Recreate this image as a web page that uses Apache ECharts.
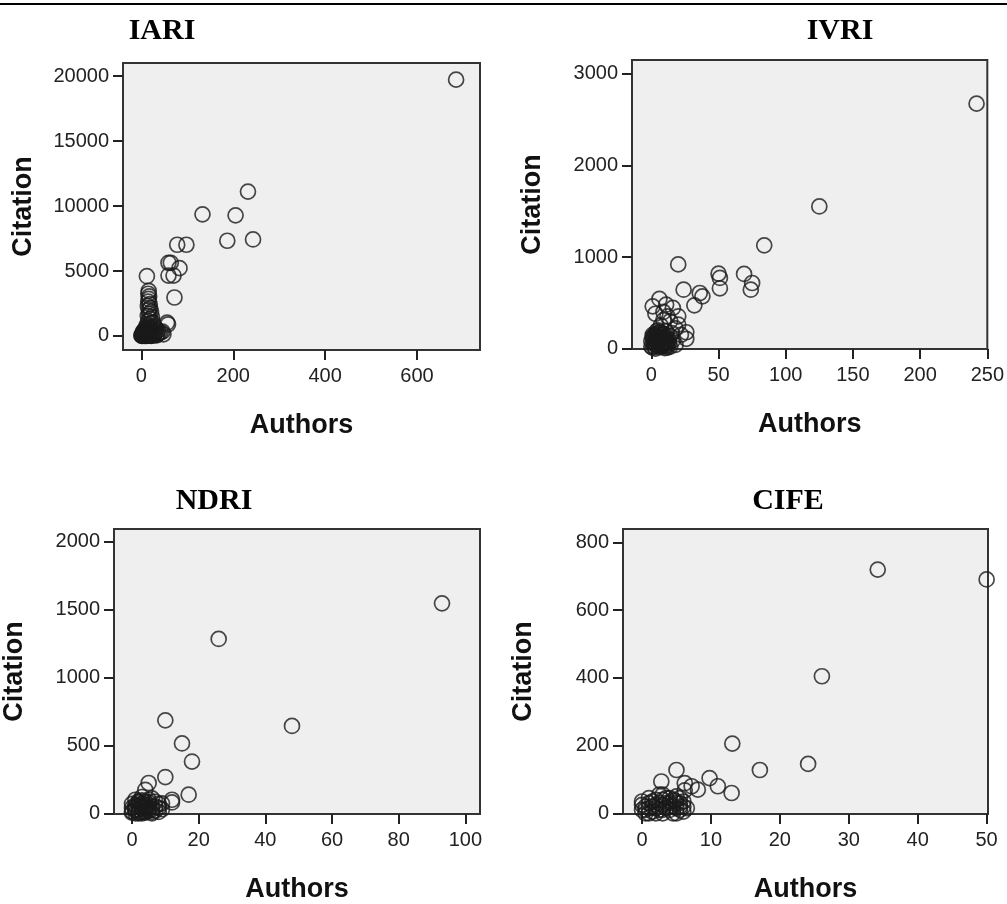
<!DOCTYPE html>
<html>
<head>
<meta charset="utf-8">
<script src="https://cdn.jsdelivr.net/npm/echarts@6/dist/echarts.min.js"></script>
<style>
  html, body { margin: 0; background: #fff; }
  #main { width: 1007px; height: 904px; }
</style>
</head>
<body>
<div id="main"></div>
<script>
// values (authors vs citation per institute)
const iariAuthors = [685, 232, 133, 205, 187, 243, 78, 98, 59, 64, 83, 59, 70, 12, 72, 58, 56, 48,
  16, 15, 17, 16, 15, 18, 14, 19, 16, 21, 17, 14, 23, 19, 15, 25, 20, 12, 28, 17, 10, 31, 22, 8, 36,
  14, 5, 42, 26, 3, 19, 2, 11, 1, 6, 0, 4, 9, 13, 29, 38, 46, 34, 24, 7, 3, 12, 8, 20, 2, 5, 15, 10, 18,
  1, 3, 6, 9, 12, 15, 18, 21, 24, 27, 30, 33, 4, 8, 11, 14, 17, 20, 23];
const iariCitations = [19730, 11110, 9360, 9285, 7330, 7430, 7020, 7020, 5630, 5630, 5220, 4650, 4650, 4600, 2960, 900, 1020, 130,
  3470, 3250, 3050, 2850, 2650, 2450, 2300, 2150, 2000, 1850, 1700, 1550, 1450, 1300, 1150, 1050, 950, 850, 780, 700, 640, 580, 520, 460, 420,
  380, 330, 280, 240, 200, 170, 130, 110, 80, 60, 40, 20, 10, 50, 140, 200, 330, 90, 30, 150, 260, 300, 520, 640, 10, 100, 20, 200, 410,
  0, 60, 0, 120, 0, 90, 30, 0, 160, 60, 260, 40, 350, 280, 450, 220, 560, 300, 120];

const ivriAuthors = [242, 125, 84, 20, 50, 51, 51, 69, 75, 74, 24, 36, 38, 32, 1, 6, 11, 16, 12, 20, 20, 26, 26,
  9, 14, 3, 18, 7, 22, 11, 4, 16, 2, 8, 12, 5, 0, 10, 6, 14, 1, 3, 18, 9,
  1, 2, 3, 4, 5, 6, 7, 8, 9, 10, 11, 12, 13, 3, 5, 7, 9, 0, 1, 2, 4, 6, 8, 10, 11, 13, 14, 15,
  2, 4, 6, 8, 10, 3, 5, 7, 9, 1, 4, 6, 8, 2, 5, 7, 11, 12];
const ivriCitations = [2675, 1552, 1127, 919, 818, 771, 658, 815, 716, 643, 643, 607, 570, 472, 461, 542, 480, 444, 352, 352, 262, 178, 106,
  400, 300, 380, 220, 250, 150, 190, 120, 90, 60, 30, 70, 200, 20, 5, 100, 140, 150, 0, 40, 310,
  10, 25, 45, 70, 95, 15, 40, 65, 90, 120, 35, 10, 55, 150, 170, 130, 160, 80, 110, 140, 190, 180, 110, 60, 140, 100, 20, 170,
  50, 30, 80, 20, 90, 100, 130, 60, 40, 130, 150, 160, 150, 90, 60, 100, 80, 30];

const ndriAuthors = [93, 26, 48, 10, 15, 18, 10, 17, 5, 4, 12, 12, 9, 7, 1, 2, 3, 0, 4, 5, 6, 2, 3, 1, 6, 4, 8, 0, 2, 5, 7, 3,
  0, 1, 1, 2, 2, 3, 3, 4, 4, 5, 5, 6, 6, 7, 8, 8, 1, 0, 3, 9,
  1, 2, 4, 5, 3, 6, 2, 4];
const ndriCitations = [1545, 1283, 643, 684, 514, 381, 267, 137, 223, 173, 100, 80, 73, 85, 20, 50, 10, 5, 40, 60, 30, 90, 70, 100, 0, 15, 40, 40, 0, 100, 50, 120,
  15, 30, 60, 25, 80, 40, 95, 5, 60, 20, 80, 50, 110, 20, 10, 70, 0, 70, 0, 30,
  45, 10, 30, 40, 55, 10, 65, 85];

const cifeAuthors = [34.2, 50, 26.1, 13.1, 24.1, 17.1, 5, 2.8, 9.8, 11, 13, 8.1, 6.2, 7.2, 6.2, 5, 4.8,
  0, 0.5, 1, 1.5, 2, 2, 3, 3, 4, 4, 5, 5.5, 6, 6, 2.5, 1, 0, 3.5, 5.5, 4.5,
  0.5, 1, 1.5, 2, 2, 2.5, 3, 3.5, 3.5, 4, 4.5, 5, 5, 5.5, 6, 4, 3, 6.5, 1, 0,
  1.5, 2.5, 4.5, 0.5, 3, 5.5];
const cifeCitations = [720, 691, 405, 206, 146, 128, 128, 94, 104, 80, 60, 70, 89, 80, 68, 50, 37,
  10, 20, 30, 5, 40, 15, 25, 0, 10, 30, 15, 45, 20, 5, 55, 0, 35, 45, 30, 0,
  0, 15, 35, 25, 0, 10, 40, 15, 30, 20, 40, 0, 30, 10, 35, 45, 55, 15, 45, 25,
  20, 30, 20, 10, 10, 20];

const titles = ['IARI', 'IVRI', 'NDRI', 'CIFE'];
const xTicks = [[0, 200, 400, 600], [0, 50, 100, 150, 200, 250], [0, 20, 40, 60, 80, 100], [0, 10, 20, 30, 40, 50]];
const yTicks = [[0, 5000, 10000, 15000, 20000], [0, 1000, 2000, 3000], [0, 500, 1000, 1500, 2000], [0, 200, 400, 600, 800]];

const zip = (a, b) => a.map((v, i) => [v, b[i]]);
const seriesData = [
  zip(iariAuthors, iariCitations),
  zip(ivriAuthors, ivriCitations),
  zip(ndriAuthors, ndriCitations),
  zip(cifeAuthors, cifeCitations)
];

// layout of the four panels
const grids = [
  { left: 123, top: 63, width: 357, height: 287 },
  { left: 632, top: 60, width: 356, height: 289 },
  { left: 110, top: 529, width: 370, height: 288 },
  { left: 623, top: 529, width: 365, height: 288 }
];
const xRange = [[-40, 737], [-14.4, 250], [-5.4, 104.4], [-2.76, 50.2]];
const yRange = [[-1080, 21010], [-5, 3152], [-5, 2092], [-2, 840]];
const titlePos = [[157, 11], [835, 11], [209, 481], [783, 481]];

const labelFont = { fontFamily: 'Liberation Sans', fontSize: 20, color: '#222' };
const nameFont = { fontFamily: 'Liberation Sans', fontSize: 27, fontWeight: 'bold', color: '#111' };
const plain = v => String(v);

const chart = echarts.init(document.getElementById('main'));
chart.setOption({
  backgroundColor: '#fff',
  animation: false,
  title: titles.map((t, i) => ({
    text: t,
    left: titlePos[i][0],
    top: titlePos[i][1],
    textAlign: 'center',
    textStyle: { fontFamily: 'Liberation Serif', fontSize: 30, fontWeight: 'bold', color: '#000' }
  })),
  graphic: [{
    type: 'line',
    shape: { x1: 0, y1: 4, x2: 1007, y2: 4 },
    style: { stroke: '#000', lineWidth: 2 }
  }],
  grid: grids.map(g => Object.assign({
    show: true,
    backgroundColor: '#efefef',
    borderColor: '#333',
    borderWidth: 2
  }, g)),
  xAxis: grids.map((g, i) => ({
    gridIndex: i,
    type: 'value',
    min: xRange[i][0],
    max: xRange[i][1],
    name: 'Authors',
    nameLocation: 'middle',
    nameGap: 62,
    nameTextStyle: nameFont,
    axisLine: { show: true, onZero: false, lineStyle: { color: '#333', width: 2 } },
    axisTick: { show: true, length: 10, customValues: xTicks[i], lineStyle: { color: '#222', width: 2 } },
    axisLabel: Object.assign({ margin: 16, customValues: xTicks[i], formatter: plain }, labelFont),
    splitLine: { show: false }
  })),
  yAxis: grids.map((g, i) => ({
    gridIndex: i,
    type: 'value',
    min: yRange[i][0],
    max: yRange[i][1],
    name: 'Citation',
    nameLocation: 'middle',
    nameGap: 86,
    nameTextStyle: nameFont,
    axisLine: { show: true, onZero: false, lineStyle: { color: '#333', width: 2 } },
    axisTick: { show: true, length: 10, customValues: yTicks[i], lineStyle: { color: '#222', width: 2 } },
    axisLabel: Object.assign({ margin: 14, customValues: yTicks[i], formatter: plain }, labelFont),
    splitLine: { show: false }
  })),
  series: seriesData.map((d, i) => ({
    type: 'scatter',
    xAxisIndex: i,
    yAxisIndex: i,
    data: d,
    symbol: 'circle',
    symbolSize: 15,
    itemStyle: { color: 'rgba(0,0,0,0)', borderColor: '#1a1a1a', borderWidth: 1.7 }
  }))
});
</script>
</body>
</html>
